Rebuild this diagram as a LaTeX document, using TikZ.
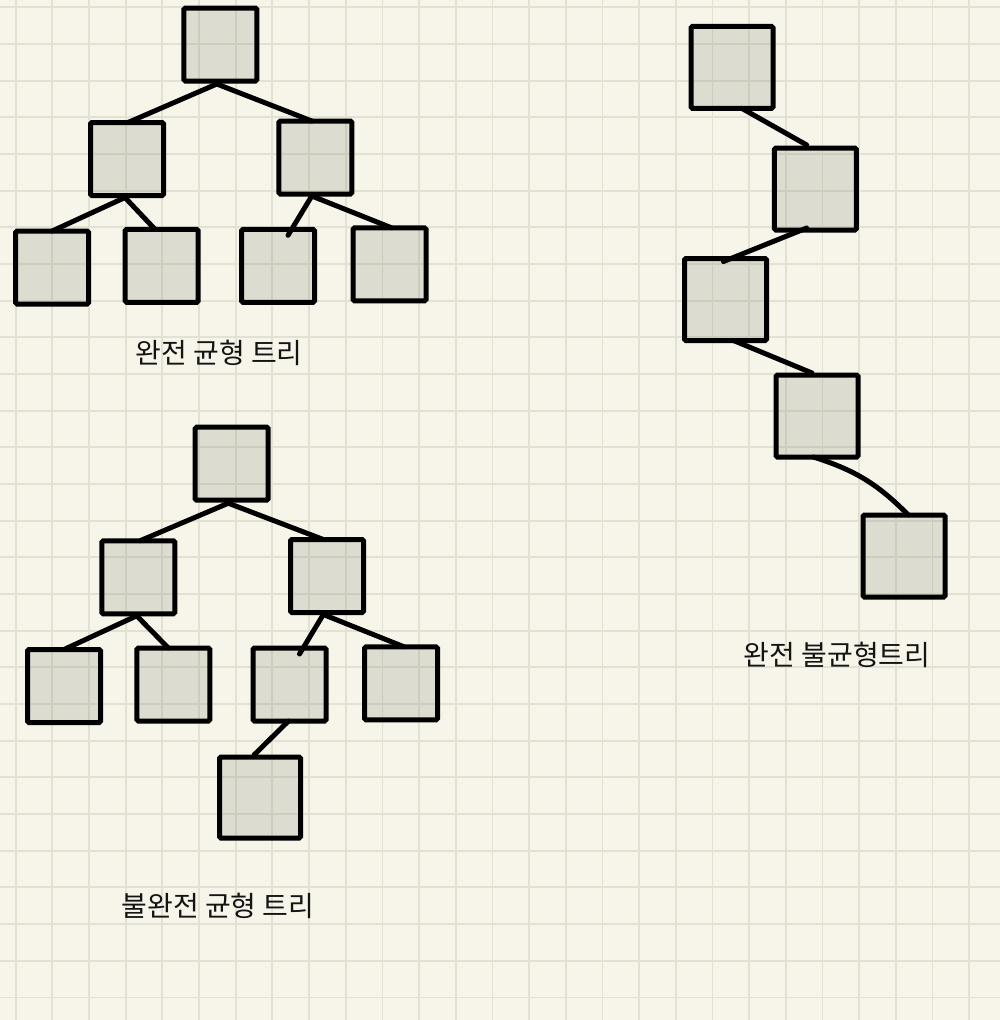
\documentclass[tikz,border=0pt]{standalone}
\usepackage{fontspec}
\newfontfamily\kr{Noto Sans CJK KR}
\definecolor{bgc}{RGB}{247,245,233}
\definecolor{gridc}{RGB}{226,225,211}
\definecolor{boxf}{RGB}{110,115,105}
\begin{document}
\begin{tikzpicture}[x=1pt,y=-1pt,
  nd/.style={draw=black,line width=5pt,fill=boxf,fill opacity=0.19,draw opacity=1,rounded corners=1.5pt,minimum size=73pt,inner sep=0pt,outer sep=0pt},
  bignd/.style={nd,minimum size=82pt},
  edge/.style={line width=5pt,line cap=round},
  lbl/.style={font=\kr\fontsize{28}{33}\selectfont,text=black!92}]
\useasboundingbox (0,0) rectangle (1000,1020);
\fill[bgc] (0,0) rectangle (1000,1020);
\foreach \k in {0,...,26}{
  \draw[gridc,line width=1.8pt] ({15.7+36.67*\k},0) -- ({15.7+36.67*\k},1020);
}
\foreach \k in {0,...,27}{
  \draw[gridc,line width=1.8pt] (0,{7.3+36.67*\k}) -- (1000,{7.3+36.67*\k});
}
% tree 1: complete balanced
\node[nd] (a1) at (220.3,44.5) {};
\node[nd] (b1) at (127,159) {};
\node[nd] (c1) at (315.3,157.5) {};
\node[nd] (d1) at (52.2,267.5) {};
\node[nd] (e1) at (161.7,265.8) {};
\node[nd] (f1) at (278,265.8) {};
\node[nd] (g1) at (389.5,264.3) {};
\draw[edge] ([xshift=-3.5pt,yshift=-3pt]a1.south) -- ([xshift=1pt]b1.north);
\draw[edge] ([xshift=-3.5pt,yshift=-3pt]a1.south) -- ([xshift=-3.5pt]c1.north);
\draw[edge] ([xshift=-2pt,yshift=-2pt]b1.south) -- (d1.north);
\draw[edge] ([xshift=-2pt,yshift=-2pt]b1.south) -- ([xshift=-6.7pt]e1.north);
\draw[edge] ([xshift=-3.5pt,yshift=-2pt]c1.south) -- ([xshift=10pt,yshift=-6pt]f1.north);
\draw[edge] ([xshift=-3.5pt,yshift=-2pt]c1.south) -- ([xshift=2pt]g1.north);
\node[lbl] (l1) at (219,353) {완전 균형 트리};
% tree 2: incomplete balanced
\node[nd] (a2) at (231.7,463.7) {};
\node[nd] (b2) at (138.3,577.3) {};
\node[nd] (c2) at (327,576) {};
\node[nd] (d2) at (64,686) {};
\node[nd] (e2) at (173.3,684.5) {};
\node[nd] (f2) at (289.5,684.5) {};
\node[nd] (g2) at (401,683.3) {};
\node[nd,minimum size=81pt] (h2) at (260,797.5) {};
\draw[edge] ([xshift=-3.4pt,yshift=-3pt]a2.south) -- ([xshift=1.7pt]b2.north);
\draw[edge] ([xshift=-3.4pt,yshift=-3pt]a2.south) -- ([xshift=-3.7pt]c2.north);
\draw[edge] ([xshift=-1.6pt,yshift=-2pt]b2.south) -- (d2.north);
\draw[edge] ([xshift=-1.6pt,yshift=-2pt]b2.south) -- ([xshift=-5pt]e2.north);
\draw[edge] ([xshift=-3.7pt,yshift=-2pt]c2.south) -- ([xshift=10pt,yshift=-6pt]f2.north);
\draw[edge] ([xshift=-3.7pt,yshift=-2pt]c2.south) -- ([xshift=3pt]g2.north);
\draw[edge] ([xshift=-1pt]f2.south) -- ([xshift=-6pt,yshift=2pt]h2.north);
\node[lbl] (l2) at (218,906) {불완전 균형 트리};
% tree 3: complete unbalanced
\node[bignd] (a3) at (732,67.3) {};
\node[bignd] (b3) at (815.3,189) {};
\node[bignd] (c3) at (725.5,299.5) {};
\node[bignd] (d3) at (817,416) {};
\node[bignd] (e3) at (904,556) {};
\draw[edge] ([xshift=9.7pt]a3.south) -- ([xshift=-8.6pt,yshift=3pt]b3.north);
\draw[edge] ([xshift=-8.6pt,yshift=2pt]b3.south) -- ([xshift=-2pt,yshift=-3pt]c3.north);
\draw[edge] ([xshift=8pt]c3.south) -- ([xshift=-5pt,yshift=2pt]d3.north);
\draw[edge] ([xshift=-3.7pt]d3.south) to[bend left=14] ([xshift=4.3pt]e3.north);
\node[lbl] (l3) at (837,655) {완전 불균형트리};
\end{tikzpicture}
\end{document}
